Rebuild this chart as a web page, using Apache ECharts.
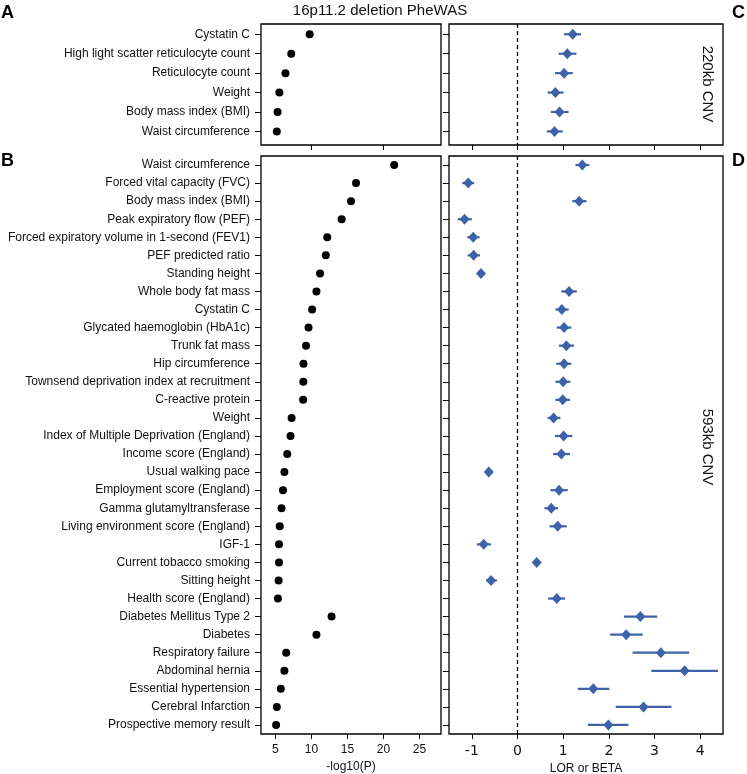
<!DOCTYPE html>
<html>
<head>
<meta charset="utf-8">
<script src="https://cdn.jsdelivr.net/npm/echarts@6/dist/echarts.min.js"></script>
<style>
html,body{margin:0;padding:0;background:#fff;}
#chart{width:747px;height:774px;}
</style>
</head>
<body>
<div id="chart"></div>
<script>
// ---- Data ----
const topCats = ['Cystatin C','High light scatter reticulocyte count','Reticulocyte count','Weight','Body mass index (BMI)','Waist circumference'];
const topLogP = [9.76, 7.2, 6.4, 5.55, 5.3, 5.2];
const topBeta = [1.21, 1.09, 1.02, 0.83, 0.92, 0.81];
const topLo   = [1.02, 0.90, 0.82, 0.66, 0.73, 0.64];
const topHi   = [1.39, 1.29, 1.21, 1.01, 1.12, 0.99];

const botCats = ['Waist circumference','Forced vital capacity (FVC)','Body mass index (BMI)','Peak expiratory flow (PEF)','Forced expiratory volume in 1-second (FEV1)','PEF predicted ratio','Standing height','Whole body fat mass','Cystatin C','Glycated haemoglobin (HbA1c)','Trunk fat mass','Hip circumference','Townsend deprivation index at recruitment','C-reactive protein','Weight','Index of Multiple Deprivation (England)','Income score (England)','Usual walking pace','Employment score (England)','Gamma glutamyltransferase','Living environment score (England)','IGF-1','Current tobacco smoking','Sitting height','Health score (England)','Diabetes Mellitus Type 2','Diabetes','Respiratory failure','Abdominal hernia','Essential hypertension','Cerebral Infarction','Prospective memory result'];
const botLogP = [21.5,16.2,15.5,14.2,12.2,12.0,11.2,10.7,10.1,9.6,9.25,8.9,8.88,8.85,7.25,7.1,6.65,6.25,6.05,5.85,5.6,5.5,5.5,5.45,5.35,12.8,10.7,6.5,6.25,5.75,5.2,5.1];
const botBeta = [1.42,-1.08,1.35,-1.16,-0.97,-0.96,-0.80,1.13,0.97,1.02,1.07,1.02,1.00,0.99,0.79,1.01,0.96,-0.63,0.91,0.74,0.88,-0.74,0.42,-0.58,0.86,2.69,2.38,3.14,3.66,1.66,2.76,1.99];
const botLo   = [1.27,-1.21,1.20,-1.31,-1.10,-1.09,-0.88,0.96,0.83,0.86,0.91,0.85,0.83,0.83,0.66,0.82,0.78,-0.71,0.72,0.59,0.70,-0.89,0.37,-0.69,0.67,2.33,2.03,2.52,2.93,1.32,2.15,1.54];
const botHi   = [1.57,-0.95,1.51,-1.00,-0.83,-0.82,-0.72,1.30,1.12,1.18,1.24,1.18,1.16,1.15,0.94,1.20,1.15,-0.55,1.10,0.89,1.08,-0.58,0.48,-0.45,1.04,3.06,2.74,3.76,4.39,2.01,3.37,2.43];

const logPTicks = [5, 10, 15, 20, 25];
const topLogPTicks = [10, 20];
const betaTicks = [-1, 0, 1, 2, 3, 4];

// ---- Styles ----
const BLUE = '#3d62a8';
const SANS = '"Liberation Sans", Arial, Helvetica, sans-serif';

const chart = echarts.init(document.getElementById('chart'));

function idx(n){ return Array.from({length:n}, (_, i) => i); }

function yAxisDef(gridIndex, cats, min, max, showLabels){
  const vals = idx(cats.length);
  return {
    type: 'value', gridIndex, min, max, inverse: true, position: 'left',
    axisLine: {show: false, onZero: false},
    splitLine: {show: false},
    axisTick: {show: true, customValues: vals, length: 6, lineStyle: {color: '#000', width: 1}},
    axisLabel: {show: showLabels, customValues: vals, margin: 11, fontSize: 12, fontFamily: SANS, color: '#111',
      formatter: v => cats[Math.round(v)] || ''}
  };
}

function xAxisLeft(gridIndex, ticks, showLabels, name){
  return {
    type: 'value', gridIndex, min: 3, max: 28, position: 'bottom',
    axisLine: {show: false, onZero: false}, splitLine: {show: false},
    axisTick: {show: true, customValues: ticks, length: 5, lineStyle: {color: '#000', width: 1}},
    axisLabel: {show: showLabels, customValues: ticks, margin: 10, fontSize: 12, fontFamily: SANS, color: '#111'},
    name: name || '', nameLocation: 'middle', nameGap: 27,
    nameTextStyle: {fontSize: 12, fontFamily: SANS, color: '#111'}
  };
}
function xAxisRight(gridIndex, showLabels, name){
  return {
    type: 'value', gridIndex, min: -1.5, max: 4.5, position: 'bottom',
    axisLine: {show: false, onZero: false}, splitLine: {show: false},
    axisTick: {show: true, customValues: betaTicks, length: 5, lineStyle: {color: '#000', width: 1}},
    axisLabel: {show: showLabels, customValues: betaTicks, margin: 10, fontSize: 14, fontFamily: '"DejaVu Sans"', color: '#111'},
    name: name || '', nameLocation: 'middle', nameGap: 28,
    nameTextStyle: {fontSize: 12, fontFamily: SANS, color: '#111'}
  };
}

const gridStyle = {show: true, borderColor: '#000', borderWidth: 1.3, backgroundColor: '#fff', outerBoundsMode: 'none', containLabel: false};

function errRender(params, api){
  const a = api.coord([api.value(0), api.value(2)]);
  const b = api.coord([api.value(1), api.value(2)]);
  return {type: 'line', shape: {x1: a[0], y1: a[1], x2: b[0], y2: b[1]},
    style: {stroke: BLUE, lineWidth: 2.2}};
}

const zeroLine = {
  silent: true, symbol: ['none','none'], label: {show: false},
  lineStyle: {color: '#000', type: [4, 3], width: 1.3},
  emphasis: {disabled: true},
  data: [{xAxis: 0}]
};

const option = {
  animation: false,
  backgroundColor: '#fff',
  grid: [
    Object.assign({left: 261, top: 24, width: 180, height: 121}, gridStyle),
    Object.assign({left: 449, top: 24, width: 274, height: 121}, gridStyle),
    Object.assign({left: 261, top: 156, width: 180, height: 578}, gridStyle),
    Object.assign({left: 449, top: 156, width: 274, height: 578}, gridStyle)
  ],
  xAxis: [
    xAxisLeft(0, topLogPTicks, false),
    xAxisRight(1, false),
    xAxisLeft(2, logPTicks, true, '-log10(P)'),
    xAxisRight(3, true, 'LOR or BETA')
  ],
  yAxis: [
    yAxisDef(0, topCats, -0.53, 5.7, true),
    yAxisDef(1, topCats, -0.53, 5.7, false),
    yAxisDef(2, botCats, -0.5, 31.5, true),
    yAxisDef(3, botCats, -0.5, 31.5, false)
  ],
  series: [
    {type: 'scatter', xAxisIndex: 0, yAxisIndex: 0, symbol: 'circle', symbolSize: 8,
     itemStyle: {color: '#000', opacity: 1}, data: topLogP.map((v, i) => [v, i])},
    {type: 'scatter', xAxisIndex: 2, yAxisIndex: 2, symbol: 'circle', symbolSize: 8,
     itemStyle: {color: '#000', opacity: 1}, data: botLogP.map((v, i) => [v, i])},
    {type: 'custom', xAxisIndex: 1, yAxisIndex: 1, renderItem: errRender,
     data: topLo.map((v, i) => [v, topHi[i], i]), markLine: zeroLine, z: 2},
    {type: 'custom', xAxisIndex: 3, yAxisIndex: 3, renderItem: errRender,
     data: botLo.map((v, i) => [v, botHi[i], i]), markLine: zeroLine, z: 2},
    {type: 'scatter', xAxisIndex: 1, yAxisIndex: 1, symbol: 'diamond', symbolSize: [10, 11],
     itemStyle: {color: BLUE, opacity: 1}, data: topBeta.map((v, i) => [v, i]), z: 3},
    {type: 'scatter', xAxisIndex: 3, yAxisIndex: 3, symbol: 'diamond', symbolSize: [10, 11],
     itemStyle: {color: BLUE, opacity: 1}, data: botBeta.map((v, i) => [v, i]), z: 3}
  ],
  graphic: [
    {type: 'text', x: 380, y: 11, style: {text: '16p11.2 deletion PheWAS', fontSize: 15, fontFamily: SANS, fill: '#111', align: 'center', verticalAlign: 'middle'}},
    {type: 'text', x: 1, y: 13, style: {text: 'A', fontSize: 18, fontWeight: 'bold', fontFamily: SANS, fill: '#000', verticalAlign: 'middle'}},
    {type: 'text', x: 1, y: 161, style: {text: 'B', fontSize: 18, fontWeight: 'bold', fontFamily: SANS, fill: '#000', verticalAlign: 'middle'}},
    {type: 'text', x: 732, y: 13, style: {text: 'C', fontSize: 18, fontWeight: 'bold', fontFamily: SANS, fill: '#000', verticalAlign: 'middle'}},
    {type: 'text', x: 732, y: 161, style: {text: 'D', fontSize: 18, fontWeight: 'bold', fontFamily: SANS, fill: '#000', verticalAlign: 'middle'}},
    {type: 'text', x: 707, y: 84, rotation: -Math.PI / 2, style: {text: '220kb CNV', fontSize: 15, fontFamily: SANS, fill: '#111', align: 'center', verticalAlign: 'middle'}},
    {type: 'text', x: 707, y: 447, rotation: -Math.PI / 2, style: {text: '593kb CNV', fontSize: 15, fontFamily: SANS, fill: '#111', align: 'center', verticalAlign: 'middle'}}
  ]
};
chart.setOption(option);
</script>
</body>
</html>
